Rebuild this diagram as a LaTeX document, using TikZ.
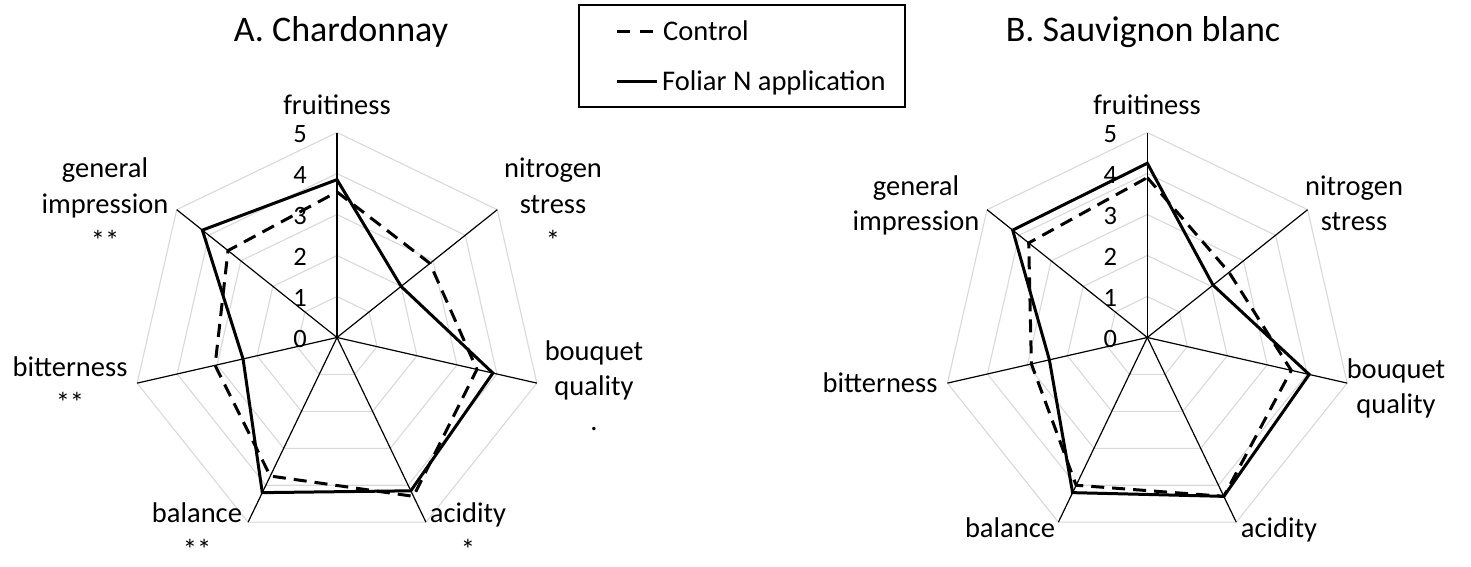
\documentclass[tikz,border=0pt]{standalone}
\usepackage{fontspec}
\setmainfont{Carlito}
\definecolor{gridgray}{HTML}{D9D9D9}
\begin{document}
\begin{tikzpicture}[x=1pt,y=-1pt,
  gridline/.style={draw=gridgray, line width=1.1pt},
  axisline/.style={draw=black, line width=1.2pt},
  foliar/.style={draw=black, line width=3pt, line join=miter},
  control/.style={draw=black, line width=3pt, line join=miter, dash pattern=on 13pt off 8pt},
  lab/.style={font=\fontsize{28.5}{34}\selectfont, anchor=base, inner sep=0pt},
  tick/.style={font=\fontsize{26.5}{30}\selectfont, anchor=base, inner sep=0pt},
  ttl/.style={font=\fontsize{36}{42}\selectfont, anchor=base, inner sep=0pt},
  legendbox/.style={draw=black, line width=1.4pt, minimum width=326pt, minimum height=102pt, inner sep=0pt}]
\useasboundingbox (0,0) rectangle (1471,567);

% ---------- generic radar drawing ----------
\newcommand{\myradar}[5]{% #1 prefix, #2 cx, #3 cy, #4 foliar values, #5 control values
  \begin{scope}[shift={(#2,#3)}]
    \coordinate (#1c) at (0,0);
    \foreach \l in {1,...,5}{
      \draw[gridline] (0,{-\l*41}) \foreach \k in {1,...,6}{ -- ({\l*41*cos(90-\k*360/7)},{-\l*41*sin(90-\k*360/7)}) } -- cycle;
    }
    \foreach \k in {0,...,6}{
      \coordinate (#1e\k) at ({205*cos(90-\k*360/7)},{-205*sin(90-\k*360/7)});
      \draw[axisline] (#1c) -- (#1e\k);
    }
    \foreach \v [count=\k from 0] in {#4}{
      \coordinate (#1f\k) at ({\v*41*cos(90-\k*360/7)},{-\v*41*sin(90-\k*360/7)});
    }
    \foreach \v [count=\k from 0] in {#5}{
      \coordinate (#1k\k) at ({\v*41*cos(90-\k*360/7)},{-\v*41*sin(90-\k*360/7)});
    }
    \draw[control] (#1k0) -- (#1k1) -- (#1k2) -- (#1k3) -- (#1k4) -- (#1k5) -- (#1k6) -- cycle;
    \draw[foliar] (#1f0) -- (#1f1) -- (#1f2) -- (#1f3) -- (#1f4) -- (#1f5) -- (#1f6) -- cycle;
    \foreach \n in {0,...,5}{
      \node[tick] (#1t\n) at (-37,{10-41*\n}) {\n};
    }
  \end{scope}
}

% ---------- Chart A ----------
\myradar{A}{337}{337.5}{3.85,2.0,3.9,4.15,4.2,2.35,4.2}{3.55,2.9,3.5,4.3,3.75,3.05,3.4}
\node[ttl] (Atitle) at (341,42) {A. Chardonnay};
\node[lab] (Afruit) at (337,115) {fruitiness};
\node[lab] (Anit1) at (553,177) {nitrogen};
\node[lab] (Anit2) at (553,213) {stress};
\node[lab] (Anit3) at (553,250) {*};
\node[lab] (Abou1) at (594,360) {bouquet};
\node[lab] (Abou2) at (594,395) {quality};
\node[lab] (Abou3) at (594,430) {.};
\node[lab] (Aaci1) at (468,522) {acidity};
\node[lab] (Aaci2) at (468,559) {*};
\node[lab] (Abal1) at (197,522) {balance};
\node[lab] (Abal2) at (197,559) {**};
\node[lab] (Abit1) at (70,376) {bitterness};
\node[lab] (Abit2) at (70,412) {**};
\node[lab] (Agen1) at (105,177) {general};
\node[lab] (Agen2) at (105,213) {impression};
\node[lab] (Agen3) at (105,250) {**};

% ---------- Chart B ----------
\myradar{B}{1147.3}{337.5}{4.25,2.05,4.05,4.3,4.2,2.45,4.2}{3.9,2.55,3.6,4.3,4.0,2.9,3.7}
\node[ttl] (Btitle) at (1143,42) {B. Sauvignon blanc};
\node[lab] (Bfruit) at (1147,115) {fruitiness};
\node[lab] (Bnit1) at (1354,195) {nitrogen};
\node[lab] (Bnit2) at (1354,230) {stress};
\node[lab] (Bbou1) at (1396,378) {bouquet};
\node[lab] (Bbou2) at (1396,413) {quality};
\node[lab] (Baci) at (1279,537) {acidity};
\node[lab] (Bbal) at (1010,537) {balance};
\node[lab] (Bbit) at (880,392) {bitterness};
\node[lab] (Bgen1) at (916,195) {general};
\node[lab] (Bgen2) at (916,230) {impression};

% ---------- Legend ----------
\node[legendbox] (legend) at (742,56) {};
\coordinate (lc1) at (617,32);
\coordinate (lc2) at (656,32);
\coordinate (lf1) at (617,82);
\coordinate (lf2) at (657,82);
\draw[line width=3pt, dash pattern=on 13pt off 10pt] (lc1) -- (lc2);
\draw[line width=3pt] (lf1) -- (lf2);
\node[lab, anchor=base west] (lctext) at (663,41) {Control};
\node[lab, anchor=base west] (lftext) at (662,91) {Foliar N application};
\end{tikzpicture}
\end{document}
